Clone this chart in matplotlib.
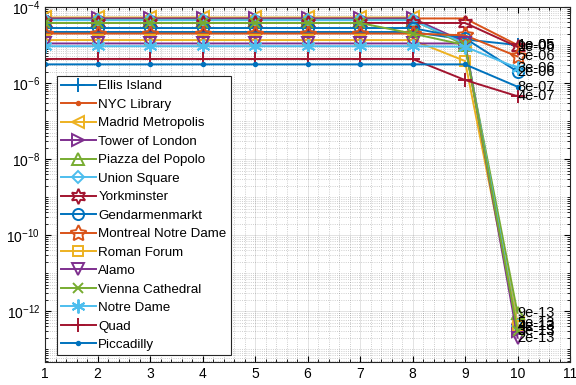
import numpy as np
import matplotlib
matplotlib.use('Agg')
import matplotlib.pyplot as plt
from matplotlib.ticker import LogLocator, MultipleLocator, LogFormatterSciNotation, NullFormatter

plt.rcParams['font.family'] = ['Liberation Sans', 'DejaVu Sans']

x = [1, 2, 3, 4, 5, 6, 7, 8, 9, 10]

names = ['Ellis Island', 'NYC Library', 'Madrid Metropolis', 'Tower of London',
         'Piazza del Popolo', 'Union Square', 'Yorkminster', 'Gendarmenmarkt',
         'Montreal Notre Dame', 'Roman Forum', 'Alamo', 'Vienna Cathedral',
         'Notre Dame', 'Quad', 'Piccadilly']

ellis    = [2.2e-5]*8 + [1.4e-5, 1.0e-5]
nyc      = [5.0e-5]*8 + [5.0e-5, 1.0e-5]
madrid   = [5.3e-5]*8 + [1.0e-5, 5.0e-13]
tower    = [5.0e-5]*8 + [1.2e-5, 3.0e-13]
piazza   = [4.6e-5]*8 + [1.0e-5, 9.0e-13]
union    = [4.5e-5]*8 + [1.1e-5, 4.0e-13]
york     = [3.8e-5]*8 + [3.8e-5, 9.0e-6]
gendarm  = [2.8e-5]*8 + [1.5e-5, 2.0e-6]
montreal = [2.0e-5]*8 + [1.8e-5, 5.0e-6]
roman    = [1.35e-5]*8 + [3.8e-6, 4.0e-13]
alamo    = [1.1e-5]*8 + [1.1e-5, 2.0e-13]
vienna   = [3.8e-5]*7 + [2.0e-5, 1.0e-5, 3.0e-13]
notre    = [9.3e-6]*8 + [9.0e-6, 2.5e-6]
quad     = [4.3e-6]*8 + [1.2e-6, 4.5e-7]
piccad   = [3.1e-6]*9 + [8.0e-7]

series = [ellis, nyc, madrid, tower, piazza, union, york, gendarm,
          montreal, roman, alamo, vienna, notre, quad, piccad]

# MATLAB default colour order
colors = [(0, 0.447, 0.741), (0.85, 0.325, 0.098), (0.929, 0.694, 0.125),
          (0.494, 0.184, 0.556), (0.466, 0.674, 0.188), (0.301, 0.745, 0.933),
          (0.635, 0.078, 0.184)]
markers = ['+', '.', '<', '>', '^', 'D', (6, 1, 0), 'o', (5, 1, 0), 's',
           'v', 'x', (6, 2, 0), '+', '.']
msizes  = [10, 5, 8, 8, 8, 6, 11, 8, 12, 7, 8, 7, 10, 10, 5]
filled  = [True, True, False, False, False, False, False, False, False, False,
           False, True, True, True, True]

fig = plt.figure(figsize=(5.76, 3.85), dpi=100)
ax = fig.add_axes([45/576, 1-362/385, 525/576, 355/385])

for i, (name, y) in enumerate(zip(names, series)):
    c = colors[i % 7]
    ax.semilogy(x, y, '-', color=c, lw=1.4, marker=markers[i], ms=msizes[i],
                mfc=c if filled[i] else 'none', mec=c, mew=1.4, label=name)

for y in series:
    ax.text(x[-1], y[-1], '%.0e' % y[-1], ha='left', va='center', fontsize=10.5)

ax.set_xlim(1, 11)
ax.set_ylim(4.6e-14, 1e-4)
ax.xaxis.set_major_locator(MultipleLocator(1))
ax.xaxis.set_minor_locator(MultipleLocator(0.2))
ax.yaxis.set_major_locator(LogLocator(base=100, numticks=20))
ax.yaxis.set_major_formatter(LogFormatterSciNotation(base=10))
ax.yaxis.set_minor_locator(LogLocator(base=10, subs=np.arange(1, 10), numticks=100))
ax.yaxis.set_minor_formatter(NullFormatter())
ax.tick_params(which='both', direction='in', top=True, right=True, labelsize=10)
ax.tick_params(which='major', length=4)
ax.tick_params(which='minor', length=2)
ax.grid(which='major', color='#262626', alpha=0.15, lw=0.6, ls='-')
ax.grid(which='minor', color='#262626', alpha=0.3, lw=0.6, ls=':')
for s in ax.spines.values():
    s.set_color('#262626')
    s.set_linewidth(0.8)

leg = ax.legend(loc='lower left', bbox_to_anchor=(57/576, 1-355/385),
                bbox_transform=fig.transFigure, fontsize=9.6, fancybox=False,
                framealpha=1, edgecolor='#262626', borderaxespad=0,
                labelspacing=0.46, handlelength=2.6, handletextpad=0.2,
                borderpad=0.3)
leg.get_frame().set_linewidth(0.8)

fig.savefig('out.png', dpi=100)
